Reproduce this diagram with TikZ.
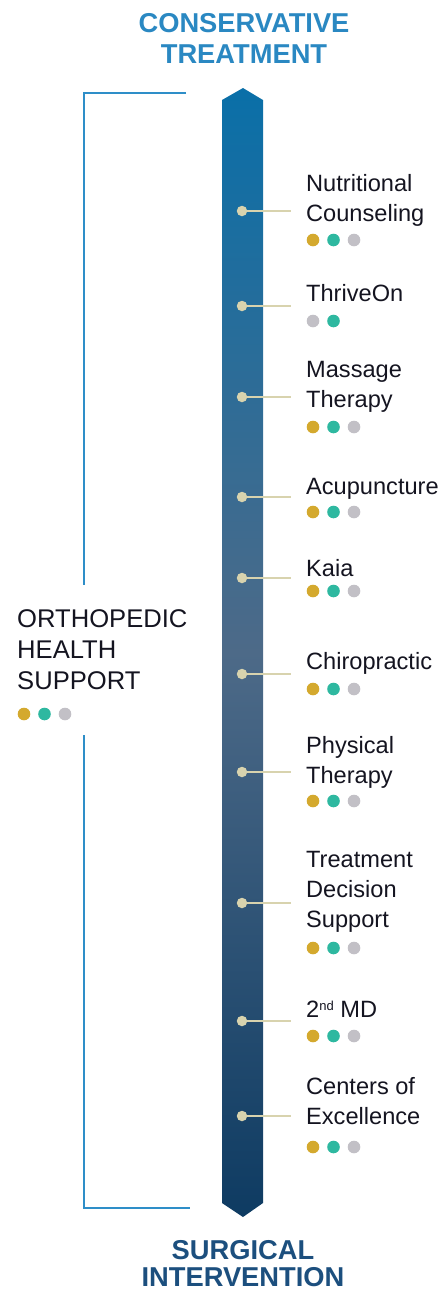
\documentclass[tikz,border=0pt]{standalone}
\usepackage{fontspec}
\setmainfont{Liberation Sans}
\definecolor{bartop}{HTML}{0A6FA8}
\definecolor{barmid}{HTML}{4D6A88}
\definecolor{barbot}{HTML}{0E3B62}
\definecolor{brk}{HTML}{2E8EC8}
\definecolor{ttop}{HTML}{2A88C2}
\definecolor{tbot}{HTML}{1C4F7E}
\definecolor{beige}{HTML}{D8D3AE}
\definecolor{cgold}{HTML}{D4A92E}
\definecolor{cteal}{HTML}{2EB8A0}
\definecolor{cgray}{HTML}{C2C0C6}
\definecolor{ink}{HTML}{141420}
\newcommand{\pdots}[3]{%
  \fill[cgold] (#1,#2) circle (6.3);
  \fill[cteal] (#1+20.5,#2) circle (6.3);
  \ifnum#3=1 \fill[cgray] (#1+41,#2) circle (6.3);\fi}
\begin{document}
\begin{tikzpicture}[x=1pt,y=-1pt,
  lbl/.style={anchor=base west,inner sep=0,text=ink,font=\fontsize{23.6}{30}\selectfont},
  big/.style={anchor=base west,inner sep=0,text=ink,font=\fontsize{25.6}{31}\selectfont},
  ttl/.style={anchor=base,inner sep=0,font=\bfseries\fontsize{27.3}{31}\selectfont},
  bardot/.style={circle,fill=beige,inner sep=0,minimum size=10.5pt},
  conn/.style={draw=beige,line width=1.8pt}]
\useasboundingbox (0,0) rectangle (443,1291);
% bar
\shade[top color=bartop,bottom color=barbot,middle color=barmid]
  (222,100) -- (243,88) -- (263,100) -- (263,1203) -- (243,1217) -- (222,1203) -- cycle;
% bracket
\draw[brk,line width=2pt] (186,93) -- (84,93) -- (84,585);
\draw[brk,line width=2pt] (84,735) -- (84,1208) -- (190,1208);
% titles
\node[ttl,text=ttop] (t1) at (244,32) {CONSERVATIVE};
\node[ttl,text=ttop] (t2) at (244,63) {TREATMENT};
\node[ttl,text=tbot] (b1) at (243,1259) {SURGICAL};
\node[ttl,text=tbot] (b2) at (243,1286) {INTERVENTION};
% left label
\node[big] (o1) at (17,627) {ORTHOPEDIC};
\node[big] (o2) at (17,658) {HEALTH};
\node[big] (o3) at (17,689) {SUPPORT};
\pdots{24}{714}{1}
% items
\foreach \n/\y in {1/211,2/306,3/397,4/497,5/578,6/674,7/772,8/903,9/1021,10/1116}{
  \node[bardot] (d\n) at (242,\y) {};
  \coordinate (e\n) at (291,\y);
  \draw[conn] (d\n) -- (e\n);
}
\node[lbl] (l1a) at (306,191) {Nutritional};
\node[lbl] (l1b) at (306,221) {Counseling};
\pdots{313}{240}{1}
\node[lbl] (l2) at (306,301) {ThriveOn};
\fill[cgray] (313,321) circle (6.3);
\fill[cteal] (333.5,321) circle (6.3);
\node[lbl] (l3a) at (306,377) {Massage};
\node[lbl] (l3b) at (306,407) {Therapy};
\pdots{313}{427}{1}
\node[lbl] (l4) at (306,494) {Acupuncture};
\pdots{313}{512}{1}
\node[lbl] (l5) at (306,576) {Kaia};
\pdots{313}{591}{1}
\node[lbl] (l6) at (306,669) {Chiropractic};
\pdots{313}{689}{1}
\node[lbl] (l7a) at (306,753) {Physical};
\node[lbl] (l7b) at (306,783) {Therapy};
\pdots{313}{801}{1}
\node[lbl] (l8a) at (306,867) {Treatment};
\node[lbl] (l8b) at (306,897) {Decision};
\node[lbl] (l8c) at (306,927) {Support};
\pdots{313}{948}{1}
\node[lbl] (l9) at (306,1017) {2{\fontsize{13}{13}\selectfont\raisebox{7pt}{nd}} MD};
\pdots{313}{1036}{1}
\node[lbl] (l10a) at (306,1094) {Centers of};
\node[lbl] (l10b) at (306,1124) {Excellence};
\pdots{313}{1147}{1}
\end{tikzpicture}
\end{document}
